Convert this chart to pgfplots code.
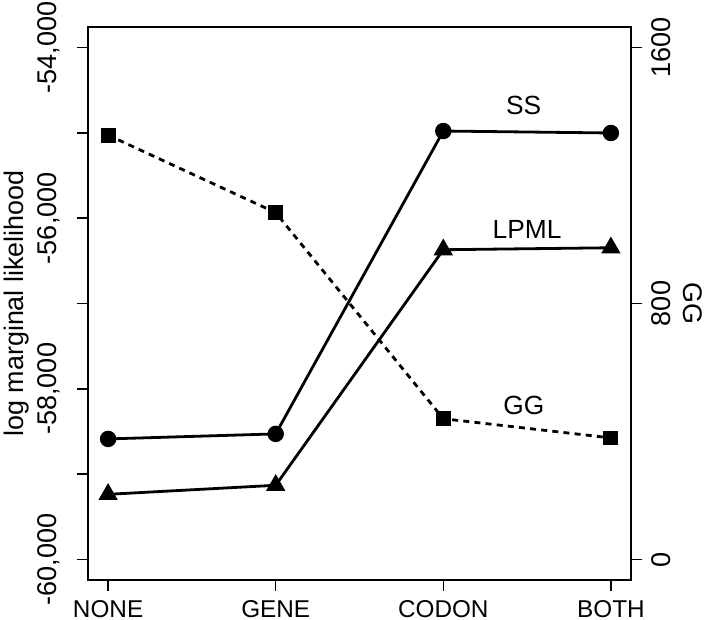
\documentclass[border=0pt]{standalone}
\usepackage{pgfplots}
\pgfplotsset{compat=1.18}
\usepackage{fontspec}
\setmainfont{Liberation Sans}

\begin{document}
\begin{tikzpicture}[x=1bp,y=1bp]
\pgfplotsset{
  common/.style={
    scale only axis, width=271.5bp, height=276.5bp,
    at={(44bp,20bp)}, anchor=south west,
    xmin=-0.12, xmax=3.12,
    tick style={black, line width=0.7bp},
    major tick length=5.5bp,
    tick align=outside,
    /pgf/number format/assume math mode=true,
    /pgf/number format/1000 sep={},
  }
}
\begin{axis}[common,
    ymin=-60240, ymax=-53760,
    axis line style={line width=0.7bp},
    xtick pos=bottom, ytick pos=left,
    xtick={0,1,2,3},
    xticklabels={NONE,GENE,CODON,BOTH},
    x tick label style={font=\fontsize{12.2}{14}\selectfont, anchor=base, yshift=-13bp},
    ytick={-60000,-59000,-58000,-57000,-56000,-55000,-54000},
    yticklabels={{-60,000},,{-58,000},,{-56,000},,{-54,000}},
    y tick label style={font=\fontsize{13.6}{15}\selectfont, xshift=-10.5bp, rotate=90, anchor=base},
    scaled y ticks=false,
    ylabel={log marginal likelihood},
    every axis y label/.style={at={(rel axis cs:0,0.5)}, xshift=-32.5bp, rotate=90, anchor=base,
      font=\fontsize{13.5}{15}\selectfont},
    clip=false,
]
\addplot[black, line width=1.4bp, mark=*, mark size=3.4bp] coordinates
  {(0,-58587) (1,-58528) (2,-54979) (3,-55002)};
\addplot[black, line width=1.4bp, mark=triangle*, mark size=4.2bp] coordinates
  {(0,-59236) (1,-59130) (2,-56370) (3,-56347)};
\node[font=\fontsize{13.2}{15}\selectfont] at (axis cs:2.48,-54684) {SS};
\node[font=\fontsize{13.2}{15}\selectfont] at (axis cs:2.5,-56134) {LPML};
\node[font=\fontsize{13.2}{15}\selectfont] at (axis cs:2.48,-58198) {GG};
\end{axis}
\begin{axis}[common,
    ymin=-64, ymax=1664,
    axis x line=none,
    axis y line*=right,
    axis line style={line width=0.7bp, -},
    ytick={0,800,1600},
    y tick label style={font=\fontsize{13.6}{15}\selectfont, xshift=14bp, rotate=90, anchor=base},
    ylabel={GG},
    every axis y label/.style={at={(rel axis cs:1,0.5)}, xshift=26bp, rotate=-90, anchor=base,
      font=\fontsize{13.5}{15}\selectfont},
]
\addplot[black, line width=1.4bp, dash pattern=on 3bp off 2.6bp,
  mark=square*, mark size=3bp, mark options={solid}] coordinates
  {(0,1326) (1,1084) (2,440) (3,380)};
\end{axis}
\pgfresetboundingbox
\useasboundingbox (0,0) rectangle (352.5,310);
\end{tikzpicture}
\end{document}
